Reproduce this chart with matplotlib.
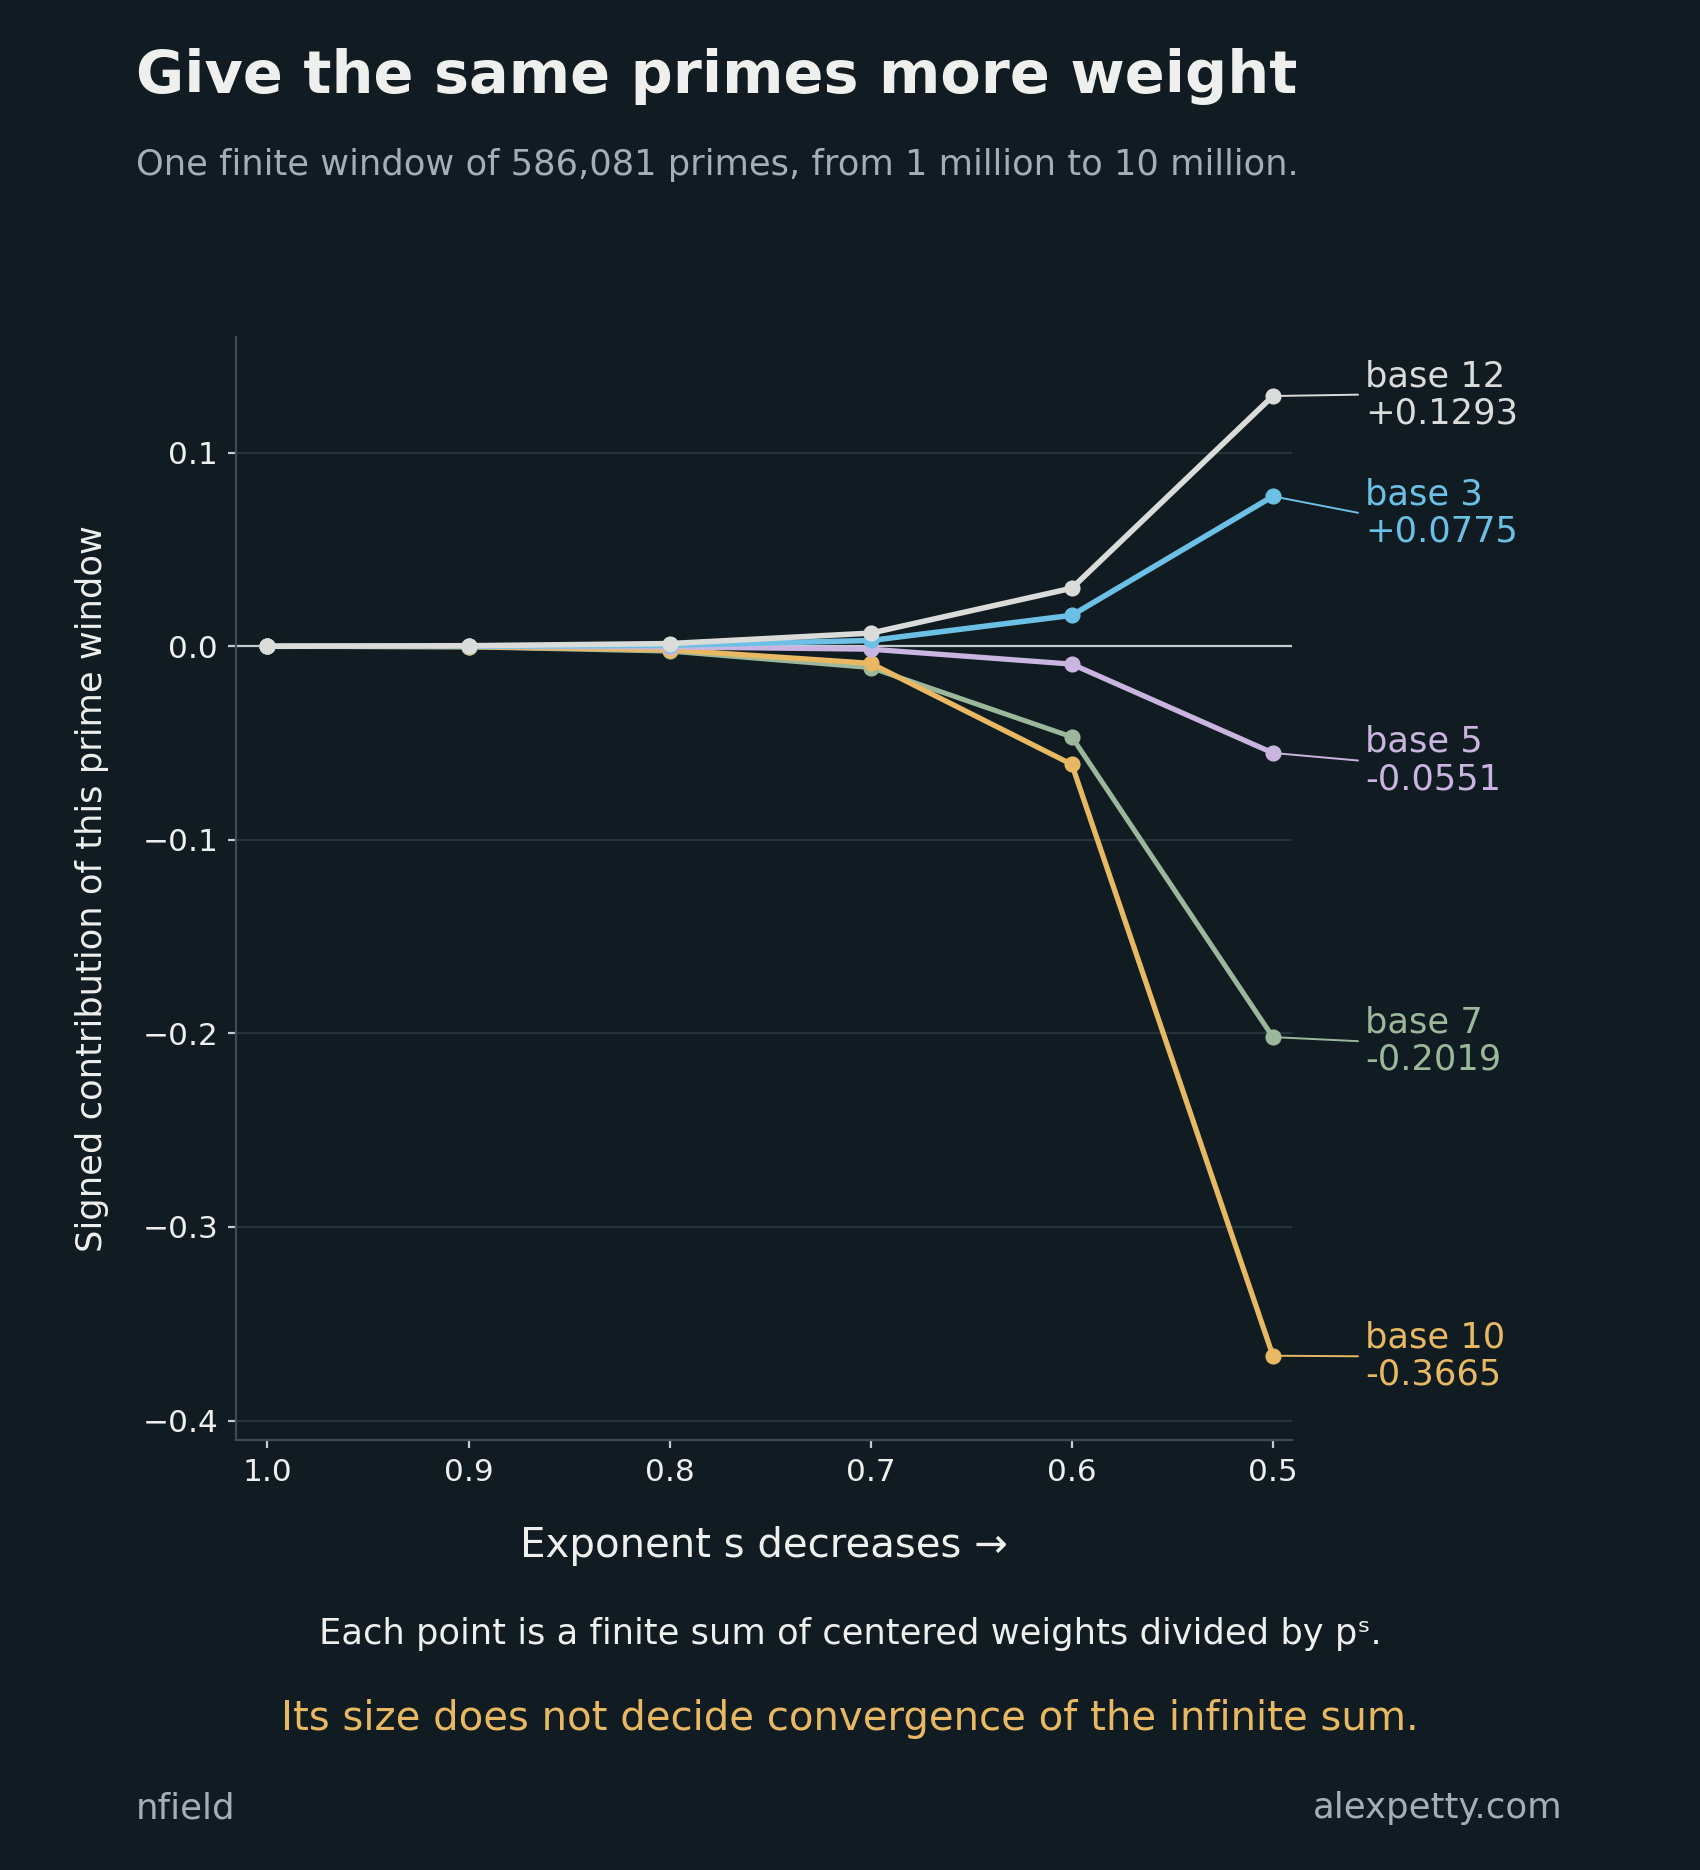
import matplotlib
matplotlib.use("Agg")
import matplotlib.pyplot as plt

BG = "#111b22"
GRID = "#24333b"
SPINE = "#3b4a55"
TEXT = "#eef0ee"
MUTED = "#a3afb6"

# exponent s (x axis) and signed contribution per base
S_VALUES = [1.0, 0.9, 0.8, 0.7, 0.6, 0.5]
BASES = ["base 12", "base 3", "base 5", "base 7", "base 10"]
BASE_12 = [0.0, 0.0003, 0.0014, 0.0068, 0.0300, 0.1293]
BASE_3 = [0.0, 0.0001, 0.0005, 0.0030, 0.0160, 0.0775]
BASE_5 = [0.0, 0.0000, -0.0003, -0.0015, -0.0092, -0.0551]
BASE_7 = [0.0, -0.0003, -0.0025, -0.0110, -0.0468, -0.2019]
BASE_10 = [0.0, -0.0002, -0.0018, -0.0088, -0.0610, -0.3665]

SERIES = [BASE_12, BASE_3, BASE_5, BASE_7, BASE_10]
COLORS = ["#d9dcd9", "#6cc0e5", "#c9b5e0", "#9bb89b", "#e8b962"]
WIDTHS = [2.0, 2.0, 1.9, 1.8, 1.9]
ZORDERS = [8, 7, 6, 4, 5]
# where the end labels sit (nudged apart a bit)
LABEL_Y = [0.1300, 0.0690, -0.0590, -0.2040, -0.3668]

plt.rcParams["font.family"] = ["DejaVu Sans"]

fig = plt.figure(figsize=(8.5, 9.35), dpi=200, facecolor=BG)
ax = fig.add_axes([0.139, 0.230, 0.621, 0.590])
ax.set_facecolor(BG)

for y in [-0.4, -0.3, -0.2, -0.1, 0.1]:
    ax.axhline(y, color=GRID, linewidth=0.8, zorder=1)
ax.axhline(0, color="#c5ccd0", linewidth=0.8, zorder=2)

for name, vals, col, lw, zo, ly in zip(BASES, SERIES, COLORS, WIDTHS, ZORDERS, LABEL_Y):
    ax.plot(S_VALUES, vals, color=col, linewidth=lw, marker="o",
            markersize=4.8, zorder=zo)
    x_end = S_VALUES[-1]
    ax.plot([x_end, 0.4578], [vals[-1], ly], color=col, linewidth=0.7,
            clip_on=False, zorder=3)
    ax.text(0.4541, ly, f"{name}\n{vals[-1]:+.4f}", color=col, fontsize=12.7,
            ha="left", va="center", linespacing=1.12, clip_on=False)

ax.set_xlim(1.0155, 0.4905)
ax.set_ylim(-0.41, 0.16)
ax.set_xticks(S_VALUES)
ax.set_xticklabels([f"{s:.1f}" for s in S_VALUES])
ax.set_yticks([-0.4, -0.3, -0.2, -0.1, 0.0, 0.1])

for sp in ["top", "right"]:
    ax.spines[sp].set_visible(False)
for sp in ["left", "bottom"]:
    ax.spines[sp].set_color(SPINE)
    ax.spines[sp].set_linewidth(0.8)
ax.tick_params(colors=TEXT, labelsize=11.2, length=3, width=0.8, color="#c5ccd0")

ax.set_ylabel("Signed contribution of this prime window", color=TEXT,
              fontsize=12.7, labelpad=12)
ax.set_xlabel("Exponent s decreases \u2192", color=TEXT, fontsize=14.5, labelpad=14)

fig.text(0.08, 0.959, "Give the same primes more weight", color=TEXT,
         fontsize=21.2, fontweight="bold", ha="left", va="center")
fig.text(0.08, 0.912, "One finite window of 586,081 primes, from 1 million to 10 million.",
         color=MUTED, fontsize=12.7, ha="left", va="center")

fig.text(0.5, 0.126, "Each point is a finite sum of centered weights divided by p\u02e2.",
         color=TEXT, fontsize=12.7, ha="center", va="center")
fig.text(0.5, 0.081, "Its size does not decide convergence of the infinite sum.",
         color="#e8b962", fontsize=14.5, ha="center", va="center")

fig.text(0.08, 0.033, "nfield", color=MUTED, fontsize=12.8, ha="left", va="center")
fig.text(0.919, 0.033, "alexpetty.com", color=MUTED, fontsize=12.8, ha="right", va="center")

fig.savefig("out.png", dpi=200, facecolor=BG)
